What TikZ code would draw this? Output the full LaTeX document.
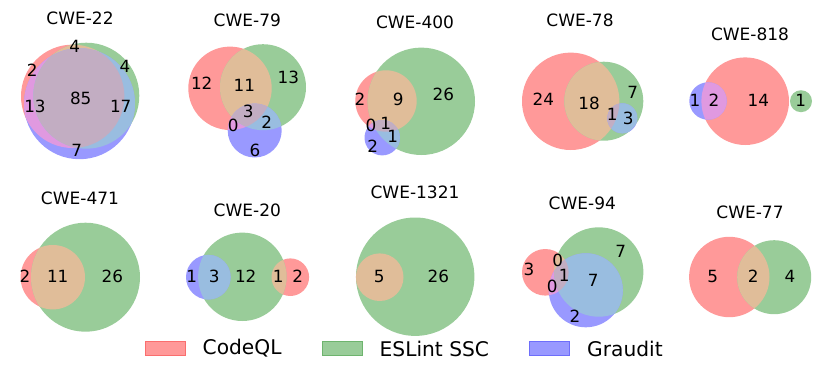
\documentclass[tikz,border=0pt]{standalone}
\usepackage{fontspec}
\setmainfont{DejaVu Sans}
\definecolor{cR}{RGB}{255,153,153}
\definecolor{cG}{RGB}{153,204,153}
\definecolor{cB}{RGB}{153,153,255}
\definecolor{cRG}{RGB}{224,189,153}
\definecolor{cRB}{RGB}{224,153,224}
\definecolor{cGB}{RGB}{153,189,224}
\definecolor{cRGB}{RGB}{194,173,194}
\definecolor{eR}{RGB}{250,110,110}
\definecolor{eG}{RGB}{110,180,110}
\definecolor{eB}{RGB}{110,110,250}
\newcommand\VennTwo[6]{%
 \fill[cR] (#1,#2) circle[radius=#3pt];
 \fill[cG] (#4,#5) circle[radius=#6pt];
 \begin{scope}\clip (#1,#2) circle[radius=#3pt]; \fill[cRG] (#4,#5) circle[radius=#6pt];\end{scope}}
\newcommand\VennThree[9]{%
 \fill[cR] (#1,#2) circle[radius=#3pt];
 \fill[cG] (#4,#5) circle[radius=#6pt];
 \fill[cB] (#7,#8) circle[radius=#9pt];
 \begin{scope}\clip (#1,#2) circle[radius=#3pt]; \fill[cRG] (#4,#5) circle[radius=#6pt];\end{scope}
 \begin{scope}\clip (#1,#2) circle[radius=#3pt]; \fill[cRB] (#7,#8) circle[radius=#9pt];\end{scope}
 \begin{scope}\clip (#4,#5) circle[radius=#6pt]; \fill[cGB] (#7,#8) circle[radius=#9pt];\end{scope}
 \begin{scope}\clip (#1,#2) circle[radius=#3pt]; \clip (#4,#5) circle[radius=#6pt]; \fill[cRGB] (#7,#8) circle[radius=#9pt];\end{scope}}
\begin{document}
\begin{tikzpicture}[x=1pt,y=-1pt,
  ttl/.style={inner sep=0pt,font=\fontsize{17}{19}\selectfont},
  lab/.style={inner sep=0pt,font=\fontsize{16.8}{19}\selectfont},
  leg/.style={inner sep=0pt,font=\fontsize{20.2}{23}\selectfont},
  legbox/.style={line width=0.7pt,minimum width=40pt,minimum height=14pt,inner sep=0pt}]
\useasboundingbox (0,0) rectangle (831,378);
% ---------- row 1 ----------
% CWE-22
\VennThree{72.7}{96.3}{51.7}{86.3}{95.7}{53}{79.5}{103.7}{55.5}
\node[ttl] (t22) at (80,18) {CWE-22};
\node[lab] (a22) at (74.7,46.7) {4};
\node[lab] (b22) at (32.3,70) {2};
\node[lab] (c22) at (125,66.7) {4};
\node[lab] (d22) at (35,106.7) {13};
\node[lab] (e22) at (80.7,98.3) {85};
\node[lab] (f22) at (120.7,106.7) {17};
\node[lab] (g22) at (76.7,150) {7};
% CWE-79
\VennThree{230}{88.3}{41.7}{263}{87.2}{43}{254.7}{130.5}{27}
\node[ttl] (t79) at (247.3,20) {CWE-79};
\node[lab] (a79) at (201.7,83.3) {12};
\node[lab] (b79) at (244.3,85) {11};
\node[lab] (c79) at (288.3,77.3) {13};
\node[lab] (d79) at (248.3,111) {3};
\node[lab] (e79) at (233.3,125) {0};
\node[lab] (f79) at (266.7,122) {2};
\node[lab] (g79) at (255,150) {6};
% CWE-400
\VennThree{386}{101}{30.7}{421.3}{101.3}{53.7}{382.2}{137.7}{17.7}
\node[ttl] (t400) at (415,22.7) {CWE-400};
\node[lab] (a400) at (360,99) {2};
\node[lab] (b400) at (398.3,99) {9};
\node[lab] (c400) at (443.3,94.3) {26};
\node[lab] (d400) at (371,125.7) {0};
\node[lab] (e400) at (385.7,123.3) {1};
\node[lab] (f400) at (392.7,136.7) {1};
\node[lab] (g400) at (372.7,146.7) {2};
% CWE-78
\VennThree{570.7}{101.3}{48.7}{603.8}{101.2}{39.5}{622.3}{118.3}{15}
\node[ttl] (t78) at (580,20) {CWE-78};
\node[lab] (a78) at (543.3,99.3) {24};
\node[lab] (b78) at (589,103.3) {18};
\node[lab] (c78) at (632.7,92.7) {7};
\node[lab] (d78) at (612.3,114) {1};
\node[lab] (e78) at (628.3,118.3) {3};
% CWE-818
\VennThree{745.2}{101.2}{43.8}{801}{101.2}{11}{708}{101}{18.7}
\node[ttl] (t818) at (750,34.3) {CWE-818};
\node[lab] (a818) at (695,100) {1};
\node[lab] (b818) at (714,100) {2};
\node[lab] (c818) at (758.3,100) {14};
\node[lab] (d818) at (800.7,100.7) {1};
% ---------- row 2 ----------
% CWE-471
\VennTwo{52.8}{277.2}{32.2}{85.5}{277.2}{54.5}
\node[ttl] (t471) at (80,198.3) {CWE-471};
\node[lab] (a471) at (25,276.7) {2};
\node[lab] (b471) at (57.7,276.7) {11};
\node[lab] (c471) at (112.3,276.7) {26};
% CWE-20
\VennThree{290.3}{277.2}{18.8}{242.3}{276.8}{44.2}{208.3}{277.2}{22.3}
\node[ttl] (t20) at (247.3,210) {CWE-20};
\node[lab] (a20) at (191.7,276.7) {1};
\node[lab] (b20) at (214.3,276.7) {3};
\node[lab] (c20) at (245.7,276.7) {12};
\node[lab] (d20) at (278.3,276.7) {1};
\node[lab] (e20) at (297.7,276.7) {2};
% CWE-1321
\VennTwo{379.7}{277.2}{23.8}{415.2}{276.7}{59.2}
\node[ttl] (t1321) at (415,192.7) {CWE-1321};
\node[lab] (a1321) at (379.3,276.7) {5};
\node[lab] (b1321) at (438.3,276.7) {26};
% CWE-94
\VennThree{545.3}{272.3}{23.3}{598.7}{272}{44.7}{585.8}{290.3}{37}
\node[ttl] (t94) at (582.3,203.3) {CWE-94};
\node[lab] (a94) at (529,269.3) {3};
\node[lab] (b94) at (557.7,260) {0};
\node[lab] (c94) at (564.3,275) {1};
\node[lab] (d94) at (552.3,286) {0};
\node[lab] (e94) at (593.3,280) {7};
\node[lab] (f94) at (620.7,251) {7};
\node[lab] (g94) at (575,316.7) {2};
% CWE-77
\VennTwo{729.3}{277}{40.2}{774.2}{277.2}{37}
\node[ttl] (t77) at (750,212.7) {CWE-77};
\node[lab] (a77) at (712.7,276.7) {5};
\node[lab] (b77) at (753.3,276.7) {2};
\node[lab] (c77) at (790,276.7) {4};
% ---------- legend ----------
\node[legbox,fill=cR,draw=eR] (kR) at (165.5,348) {};
\node[leg,anchor=west] (tR) at (202.5,348.5) {CodeQL};
\node[legbox,fill=cG,draw=eG] (kG) at (342.2,348) {};
\node[leg,anchor=west] (tG) at (379.5,348.5) {ESLint SSC};
\node[legbox,fill=cB,draw=eB] (kB) at (549.8,348) {};
\node[leg,anchor=west] (tB) at (587,348.5) {Graudit};
\end{tikzpicture}
\end{document}
